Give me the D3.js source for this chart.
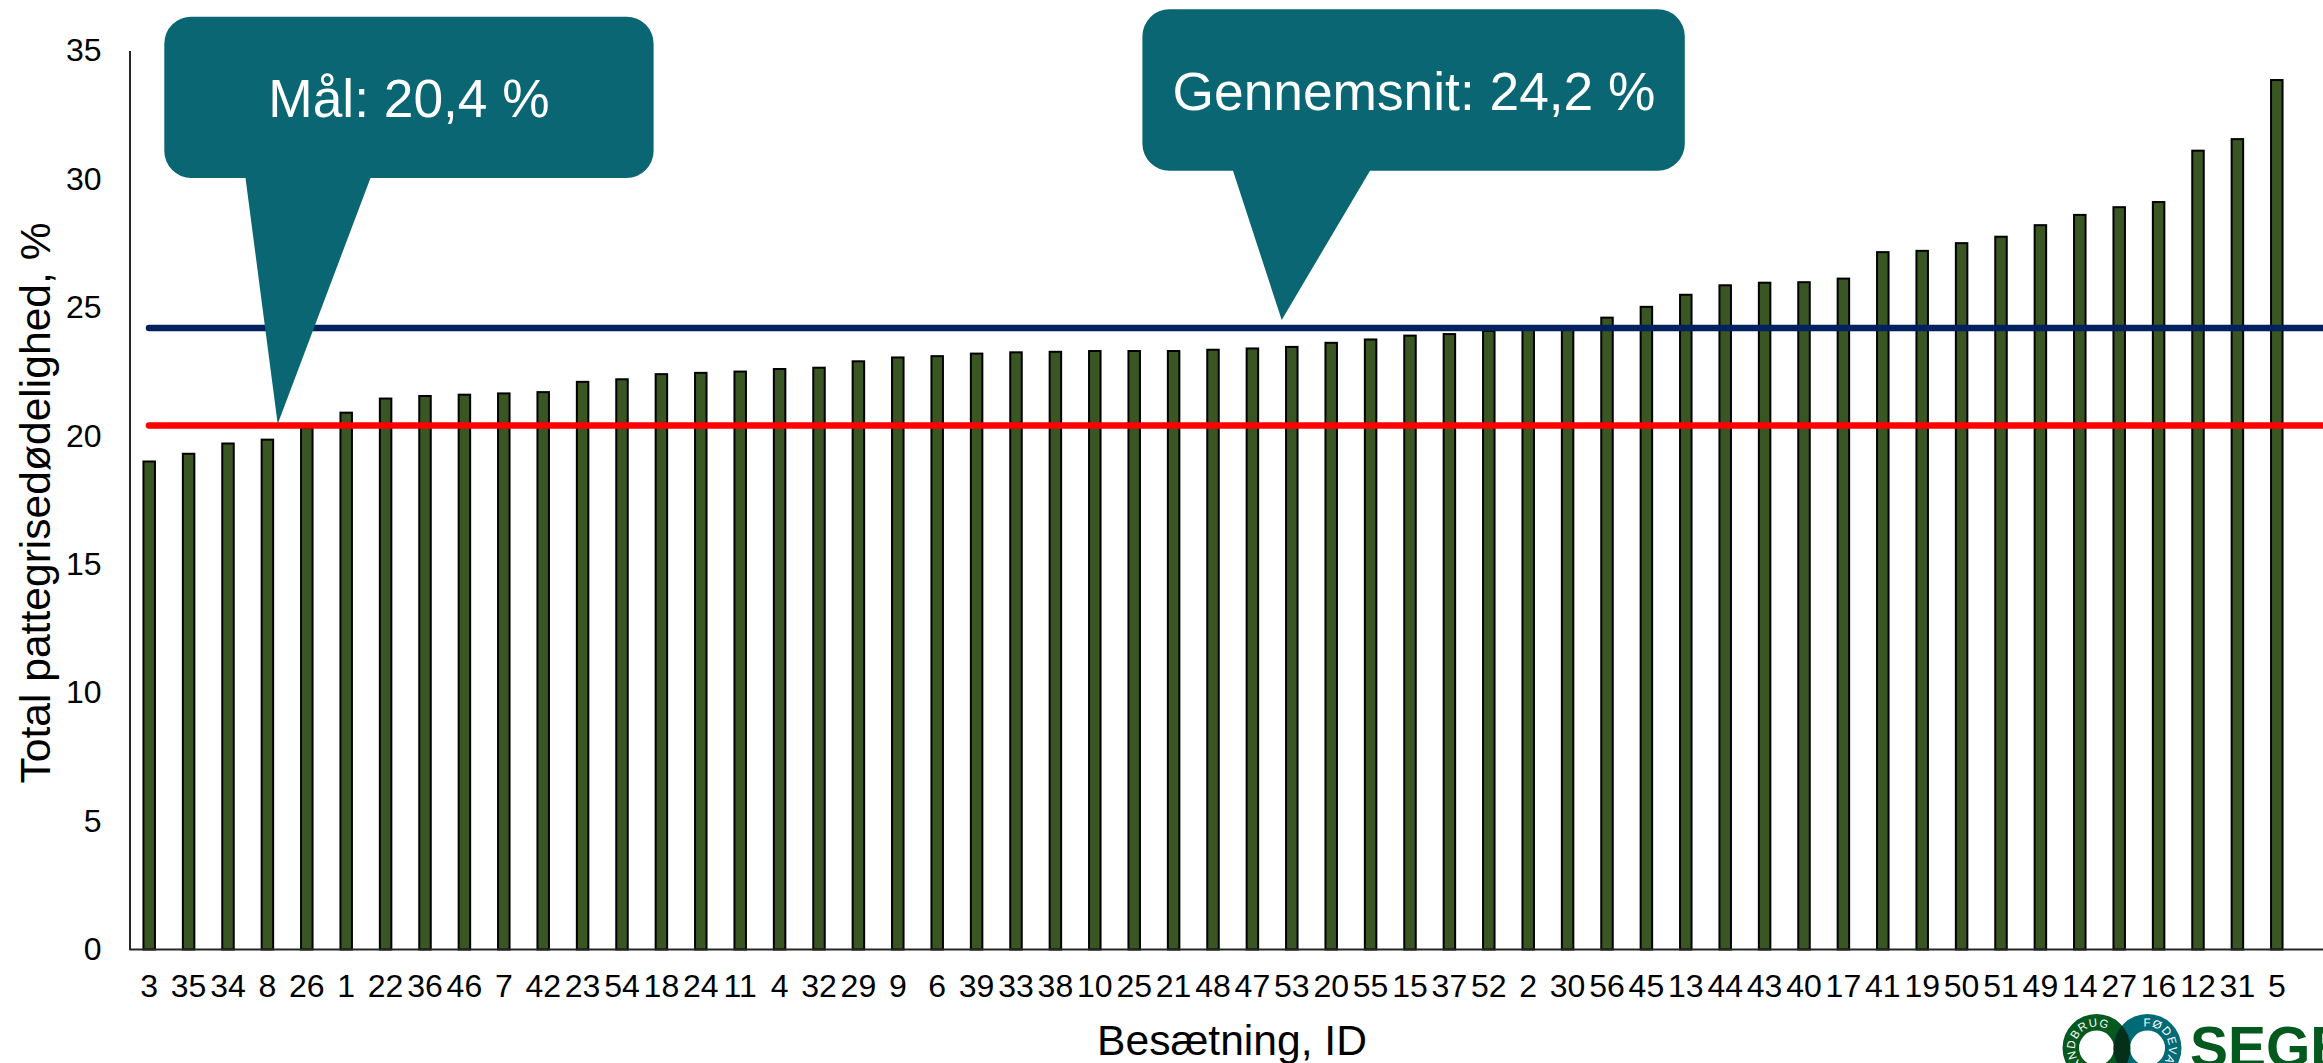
<!DOCTYPE html>
<html><head><meta charset="utf-8">
<script src="https://cdnjs.cloudflare.com/ajax/libs/d3/7.8.5/d3.min.js"></script>
<style>
html,body{margin:0;padding:0;background:#fff;overflow:hidden}
svg{display:block}
text{font-family:"Liberation Sans",Arial,sans-serif}
</style></head><body>
<svg id="c" width="2323" height="1063"></svg>
<script>
const herdIds=[3,35,34,8,26,1,22,36,46,7,42,23,54,18,24,11,4,32,29,9,6,39,33,38,10,25,21,48,47,53,20,55,15,37,52,2,30,56,45,13,44,43,40,17,41,19,50,51,49,14,27,16,12,31,5];
const mortality=[19.0,19.3,19.7,19.85,20.3,20.9,21.45,21.55,21.6,21.65,21.7,22.1,22.2,22.4,22.45,22.5,22.6,22.65,22.9,23.05,23.1,23.2,23.25,23.27,23.3,23.3,23.3,23.35,23.4,23.46,23.62,23.75,23.9,23.96,24.08,24.15,24.2,24.6,25.02,25.49,25.86,25.96,25.98,26.12,27.15,27.2,27.5,27.75,28.2,28.6,28.9,29.1,31.1,31.55,33.85];
const yTicks=[0,5,10,15,20,25,30,35];
const targetValue=20.4, averageValue=24.2;
const targetLabel="Mål: 20,4 %", averageLabel="Gennemsnit: 24,2 %";
const yTitle="Total pattegrisedødelighed, %", xTitle="Besætning, ID";

const svg=d3.select("#c");
const x=d3.scaleBand().domain(herdIds).range([129.5,2296.5]).paddingInner(0).paddingOuter(0);
const y=d3.scaleLinear().domain([0,35]).range([949.5,50.5]);
const barW=11.5;

// bars
svg.append("g").selectAll("rect").data(herdIds).join("rect")
  .attr("x",d=>x(d)+x.bandwidth()/2-barW/2)
  .attr("y",(d,i)=>y(mortality[i]))
  .attr("width",barW)
  .attr("height",(d,i)=>y(0)-y(mortality[i]))
  .attr("fill","#3a5723").attr("stroke","#000").attr("stroke-width",2);

// axes
const gy=svg.append("g").attr("transform","translate(129.5,0)")
  .call(d3.axisLeft(y).tickValues(yTicks).tickSize(0).tickPadding(28));
const gx=svg.append("g").attr("transform","translate(0,949.5)")
  .call(d3.axisBottom(x).tickSize(0).tickPadding(25));
[gy,gx].forEach(g=>{
  g.selectAll("text").attr("font-size",32).attr("fill","#000").style("font-family",'"Liberation Sans",Arial,sans-serif');
  g.select(".domain").attr("stroke","#262626").attr("stroke-width",2);
});
gx.select(".domain").attr("d","M129.5,0H2323");

// reference lines
[[targetValue,"#ff0000"],[averageValue,"#03215f"]].forEach(([v,c])=>{
  svg.append("line").attr("x1",149).attr("x2",2323).attr("y1",y(v)).attr("y2",y(v))
    .attr("stroke",c).attr("stroke-width",6.5).attr("stroke-linecap","round");
});

// callouts
function callout(x0,x1,y0,y1,r,bl,br,tx,ty,label,cx,base){
  const p=d3.path();
  p.moveTo(x0+r,y0);p.lineTo(x1-r,y0);p.arcTo(x1,y0,x1,y0+r,r);
  p.lineTo(x1,y1-r);p.arcTo(x1,y1,x1-r,y1,r);
  p.lineTo(br,y1);p.lineTo(tx,ty);p.lineTo(bl,y1);
  p.lineTo(x0+r,y1);p.arcTo(x0,y1,x0,y1-r,r);
  p.lineTo(x0,y0+r);p.arcTo(x0,y0,x0+r,y0,r);p.closePath();
  svg.append("path").attr("d",p.toString()).attr("fill","#0a6673");
  svg.append("text").attr("x",cx).attr("y",base).attr("text-anchor","middle")
    .attr("font-size",53.3).attr("fill","#fff").text(label);
}
callout(164.3,653.6,16.7,178,27,245.5,370.5,277.7,424,targetLabel,409,117);
callout(1142.4,1684.8,9.3,170.7,27,1233,1370,1281.7,320,averageLabel,1414,110);

// axis titles
svg.append("text").attr("transform","translate(50,503) rotate(-90)").attr("text-anchor","middle")
  .attr("font-size",42.6).attr("fill","#000").text(yTitle);
svg.append("text").attr("x",1232).attr("y",1055).attr("text-anchor","middle")
  .attr("font-size",42.6).attr("fill","#000").text(xTitle);

// logo
const logo=svg.append("g");
const defs=svg.append("defs");
const lc=[2096.5,1048],rc=[2147.5,1048],Ro=34,Ri=17.5;
const ring=(c)=>`M${c[0]-Ro},${c[1]}a${Ro},${Ro} 0 1,1 ${2*Ro},0a${Ro},${Ro} 0 1,1 ${-2*Ro},0Z M${c[0]-Ri},${c[1]}a${Ri},${Ri} 0 1,0 ${2*Ri},0a${Ri},${Ri} 0 1,0 ${-2*Ri},0Z`;
defs.append("clipPath").attr("id","lens").append("circle").attr("cx",lc[0]).attr("cy",lc[1]).attr("r",Ro);
logo.append("path").attr("d",ring(lc)).attr("fill","#04591f").attr("fill-rule","evenodd");
logo.append("path").attr("d",ring(rc)).attr("fill","#006a76").attr("fill-rule","evenodd");
logo.append("path").attr("d",ring(rc)).attr("fill","#04301a").attr("fill-rule","evenodd").attr("clip-path","url(#lens)");
[["a1",lc,"LANDBRUG",7],["a2",rc,"FØDEVARER",63]].forEach(([id,c,t,off])=>{
  const r=21.5;
  defs.append("path").attr("id",id).attr("d",`M${c[0]},${c[1]+r}a${r},${r} 0 1,1 0,${-2*r}a${r},${r} 0 1,1 0,${2*r}a${r},${r} 0 1,1 0,${-2*r}a${r},${r} 0 1,1 0,${2*r}`);
  logo.append("text").attr("font-size",11.5).attr("fill","#fff").attr("letter-spacing",1)
    .append("textPath").attr("href","#"+id).attr("startOffset",off).text(t);
});
logo.append("text").attr("x",2190).attr("y",1067).attr("font-size",57).attr("font-weight",700)
  .attr("fill","#04591f").text("SEGES");
</script>
</body></html>
